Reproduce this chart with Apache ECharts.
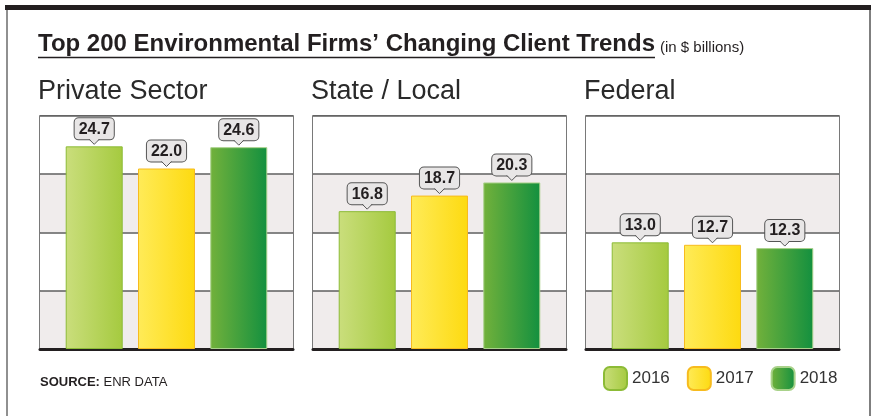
<!DOCTYPE html>
<html>
<head>
    <meta charset="UTF-8">
    <title>Top 200 Environmental Firms' Changing Client Trends</title>
    <script src="https://cdn.jsdelivr.net/npm/echarts@6/dist/echarts.min.js"></script>
    <style>
        html, body { margin: 0; padding: 0; background: #fff; }
        #chart { width: 878px; height: 416px; }
    </style>
</head>
<body>
<div id="chart"></div>
<script>
    // data (in $ billions)
    var years = ['2016', '2017', '2018'];
    var sectors = ['Private Sector', 'State / Local', 'Federal'];
    var values2016 = [24.7, 16.8, 13.0];
    var values2017 = [22.0, 18.7, 12.7];
    var values2018 = [24.6, 20.3, 12.3];
    var yMax = 28.4;
    var yStep = 7.1;

    var FONT = '"Liberation Sans", Arial, Helvetica, sans-serif';
    var TXT = '#231f20';
    var panelLeft = [40, 313, 586];
    var panelWidth = 253;

    // left -> right gradient per year
    var yearStyle = [
        {from: '#cade7c', to: '#a5ca3f', border: '#8cbb36'},
        {from: '#ffeb58', to: '#fdda10', border: '#f7bb1e'},
        {from: '#72b13b', to: '#13903f', border: '#a9d28a'}
    ];
    var byYear = [values2016, values2017, values2018];

    function grad(s) {
        return new echarts.graphic.LinearGradient(0, 0, 1, 0, [
            {offset: 0, color: s.from},
            {offset: 1, color: s.to}
        ]);
    }

    var grids = [], xAxes = [], yAxes = [], series = [];
    sectors.forEach(function (name, p) {
        grids.push({left: panelLeft[p], top: 116, width: panelWidth, height: 233,
            show: true, borderColor: '#4d4d4d', borderWidth: 1.5, backgroundColor: 'transparent'});
        xAxes.push({type: 'value', gridIndex: p, min: -0.75, max: 2.75,
            axisLine: {show: true, lineStyle: {color: TXT, width: 3}},
            axisTick: {show: false}, axisLabel: {show: false}, splitLine: {show: false}});
        yAxes.push({type: 'value', gridIndex: p, min: 0, max: yMax, interval: yStep,
            axisLine: {show: false}, axisTick: {show: false}, axisLabel: {show: false},
            splitLine: {show: true, lineStyle: {color: '#5e5e5e', width: 1.5}},
            splitArea: {show: true, areaStyle: {color: ['#f0ecec', '#ffffff']}}});

        var pts = [];
        years.forEach(function (yr, i) {
            var v = byYear[i][p];
            pts.push([i, v]);
            series.push({
                type: 'bar', name: yr, xAxisIndex: p, yAxisIndex: p,
                data: [[i, v]], barWidth: 57, barGap: '-100%',
                itemStyle: {color: grad(yearStyle[i]), borderColor: yearStyle[i].border, borderWidth: 1},
                label: {
                    show: true, position: 'top', distance: 7,
                    formatter: function (d) { return d.value[1].toFixed(1); },
                    fontFamily: FONT, fontSize: 16, fontWeight: 'bold', color: TXT,
                    backgroundColor: '#e8e6e6', borderColor: '#555', borderWidth: 1,
                    borderRadius: 4, padding: [3, 4, 2, 4]
                }
            });
        });

        // little callout pointer under each value box
        series.push({
            type: 'custom', xAxisIndex: p, yAxisIndex: p, z: 10, silent: true,
            data: pts,
            renderItem: function (params, api) {
                var c = api.coord([api.value(0), api.value(1)]);
                var x = c[0], y = c[1];
                return {
                    type: 'group',
                    children: [
                        {type: 'polygon', shape: {points: [[x - 5, y - 7.8], [x + 5, y - 7.8], [x, y - 2]]},
                            style: {fill: '#e8e6e6'}},
                        {type: 'polyline', shape: {points: [[x - 5, y - 7], [x, y - 2], [x + 5, y - 7]]},
                            style: {stroke: '#555', lineWidth: 1, fill: null}}
                    ]
                };
            }
        });
    });

    var titleText = 'Top 200 Environmental Firms\u2019 Changing Client Trends';
    var ctx = document.createElement('canvas').getContext('2d');
    ctx.font = 'bold 24px ' + FONT;
    var titleW = ctx.measureText(titleText).width;

    var graphics = [
        {type: 'rect', shape: {x: 5, y: 5, width: 866, height: 5}, style: {fill: TXT}, silent: true},
        {type: 'line', shape: {x1: 7, y1: 10, x2: 7, y2: 416}, style: {stroke: '#6b6b6b', lineWidth: 1.5}},
        {type: 'line', shape: {x1: 870, y1: 10, x2: 870, y2: 416}, style: {stroke: '#555', lineWidth: 1.5}},
        {type: 'text', x: 38, y: 44.7, style: {text: titleText, font: 'bold 24px ' + FONT, fill: TXT, verticalAlign: 'middle'}},
        {type: 'line', shape: {x1: 38, y1: 57.5, x2: 38 + titleW, y2: 57.5}, style: {stroke: TXT, lineWidth: 1.5}},
        {type: 'text', x: 38 + titleW + 5, y: 48, style: {text: '(in $ billions)', font: '15px ' + FONT, fill: TXT, verticalAlign: 'middle'}},
        {type: 'text', x: 40, y: 382.5, style: {
            text: '{b|SOURCE:} ENR DATA', font: '13px ' + FONT, fill: TXT, verticalAlign: 'middle',
            rich: {b: {fontWeight: 'bold', fontSize: 13, fontFamily: FONT, fill: TXT}}}}
    ];
    sectors.forEach(function (name, p) {
        graphics.push({type: 'text', x: panelLeft[p] - 2, y: 91.6,
            style: {text: name, font: '27px ' + FONT, fill: '#2a2a2a', verticalAlign: 'middle'}});
    });

    var chart = echarts.init(document.getElementById('chart'));
    chart.setOption({
        animation: false,
        backgroundColor: '#ffffff',
        grid: grids,
        xAxis: xAxes,
        yAxis: yAxes,
        legend: {
            data: years, left: 603, top: 366, padding: 0,
            itemWidth: 23, itemHeight: 23, itemGap: 17, icon: 'roundRect',
            textStyle: {fontFamily: FONT, fontSize: 17, color: '#333'}
        },
        tooltip: {show: false},
        graphic: graphics,
        series: series
    });
</script>
</body>
</html>
